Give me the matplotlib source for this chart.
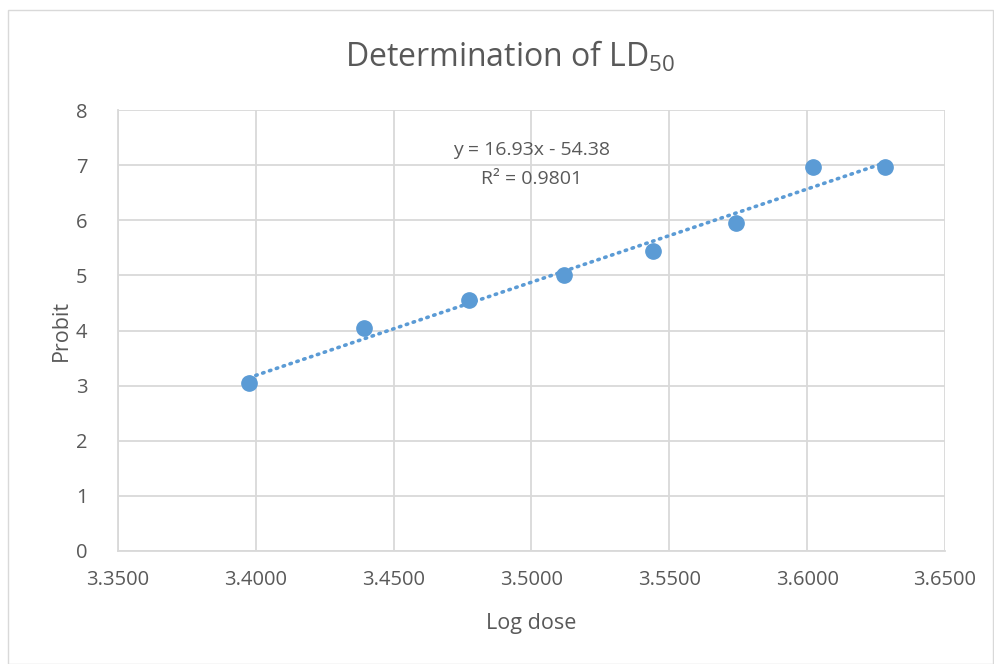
import matplotlib.pyplot as plt
import numpy as np
from matplotlib.patches import Rectangle

plt.rcParams.update({
    "font.family": ["Open Sans", "DejaVu Sans"],
    "font.size": 14,
    "text.color": "#595959",
    "axes.labelcolor": "#595959",
    "xtick.color": "#595959",
    "ytick.color": "#595959",
})

log_dose = [3.3975, 3.4392, 3.4772, 3.5118, 3.5441, 3.5742, 3.6022, 3.6283]
probit = [3.04, 4.05, 4.56, 5.00, 5.44, 5.95, 6.96, 6.96]
equation = "y = 16.93x - 54.38"
r_squared = "R² = 0.9801"

blue = "#5B9BD5"
grid_c = "#D9D9D9"

fig = plt.figure(figsize=(9.94, 6.64), dpi=100)
fig.patches.append(Rectangle((8 / 994, 0), 985 / 994, 1 - 10 / 664, transform=fig.transFigure,
                             fill=False, edgecolor=grid_c, linewidth=1))
ax = fig.add_axes([118 / 994, 1 - 551 / 664, (945 - 118) / 994, (551 - 110) / 664])

# linear trendline over the data range
x = np.array(log_dose)
slope, icpt = np.polyfit(x, probit, 1)
xs = np.array([x.min(), x.max()])
ax.plot(xs, slope * xs + icpt, linestyle=(0, (0.4, 1.6)), dash_capstyle="round",
        color=blue, linewidth=2.6, zorder=3)
ax.plot(log_dose, probit, "o", color=blue, markersize=11, zorder=4)

ax.set_xlim(3.35, 3.65)
ax.set_ylim(0, 8)
ax.set_xticks(np.arange(3.35, 3.6501, 0.05))
ax.set_xticklabels([f"{v:.4f}" for v in np.arange(3.35, 3.6501, 0.05)])
ax.set_yticks(range(9))
ax.tick_params(labelsize=14.5, length=0, pad=14)
ax.tick_params(axis="y", pad=22)
ax.grid(color=grid_c, linewidth=1.3)
ax.set_axisbelow(True)
for s in ["top", "right"]:
    ax.spines[s].set_visible(False)
for s in ["left", "bottom"]:
    ax.spines[s].set_color(grid_c)
    ax.spines[s].set_linewidth(1.3)

ax.set_xlabel("Log dose", fontsize=15.5, labelpad=16)
ax.set_ylabel("Probit", fontsize=15.5, labelpad=3)

ax.text(3.5, 7.27, equation, ha="center", va="center", fontsize=14)
ax.text(3.5, 6.75, r_squared, ha="center", va="center", fontsize=14)

fig.text(0.5135, 1 - 57 / 664, r"Determination of LD$_{\mathregular{50}}$", ha="center", va="center",
         fontsize=23)

fig.savefig("out.png", dpi=100)
